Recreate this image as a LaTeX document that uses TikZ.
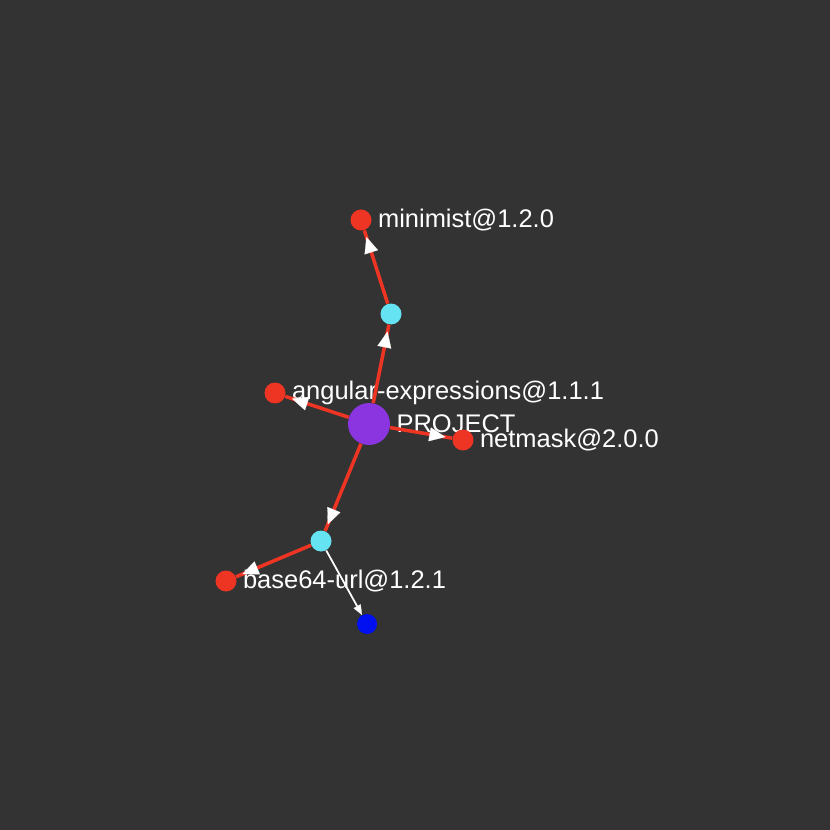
\documentclass[tikz,border=0pt]{standalone}
\usepackage{fontspec}
\setmainfont{Liberation Sans}
\usetikzlibrary{arrows.meta,decorations.markings}
\definecolor{bg}{HTML}{333333}
\definecolor{depred}{HTML}{EE3524}
\definecolor{midcyan}{HTML}{66E3F2}
\definecolor{projpurple}{HTML}{8A35E0}
\definecolor{leafblue}{HTML}{0010F0}

\begin{document}
\begin{tikzpicture}[x=0.02cm, y=-0.02cm,
    pkg/.style={circle, fill=depred, minimum size=0.42cm, inner sep=0pt},
    mid/.style={circle, fill=midcyan, minimum size=0.42cm, inner sep=0pt},
    lbl/.style={text=white, font=\fontsize{14.5}{16}\selectfont},
    dep/.style={draw=depred, line width=2pt, postaction={decorate},
        decoration={markings, mark=at position -0.14cm with
            {\arrow{Triangle[length=0.32cm, width=0.28cm, color=white, line width=0.1pt]}}}},
    sub/.style={draw=white, line width=1pt,
        -{Triangle[length=0.2cm, width=0.16cm, line width=0.1pt]}}]
            \fill[bg] (0,0) rectangle (830,830);

            \node[circle, fill=projpurple, minimum size=0.84cm, inner sep=0pt,
                label={[lbl]right:PROJECT}] (P) at (369,424) {};
            \node[mid] (C1) at (391,314) {};
            \node[mid] (C2) at (321,541) {};
            \node[pkg, label={[lbl]right:minimist@1.2.0}] (M) at (361,220) {};
            \node[pkg, label={[lbl]right:angular-expressions@1.1.1}] (A) at (275,393) {};
            \node[pkg, label={[lbl]right:netmask@2.0.0}] (N) at (463,440) {};
            \node[pkg, label={[lbl]right:base64-url@1.2.1}] (B) at (226,581) {};
            \node[circle, fill=leafblue, minimum size=0.4cm, inner sep=0pt] (U) at (367,624) {};

            \draw[dep] (P) -- (C1);
            \draw[dep] (C1) -- (M);
            \draw[dep] (P) -- (A);
            \draw[dep] (P) -- (N);
            \draw[dep] (P) -- (C2);
            \draw[dep] (C2) -- (B);
            \draw[sub] (C2) -- (U);
        \end{tikzpicture}
\end{document}
